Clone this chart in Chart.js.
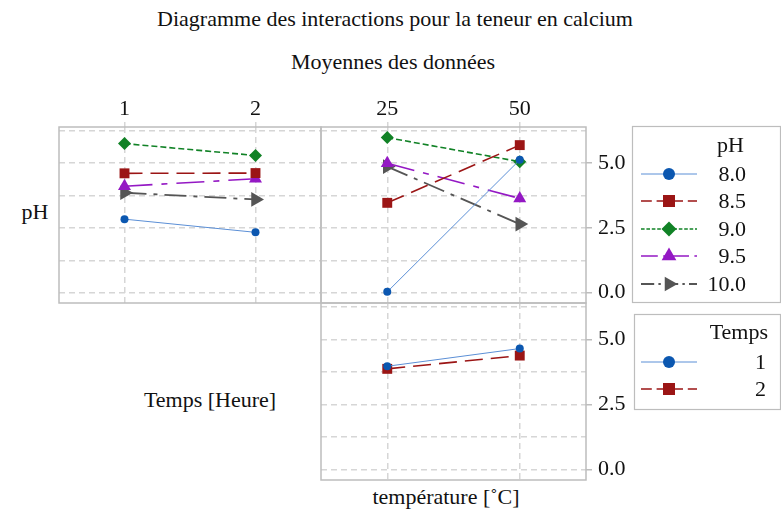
<!DOCTYPE html>
<html lang="fr">
<head>
  <meta charset="UTF-8">
  <title>Diagramme des interactions</title>
  <script src="https://cdn.jsdelivr.net/npm/chart.js"></script>
  <style>
    * { margin: 0; padding: 0; box-sizing: border-box; }
    body { width: 781px; height: 514px; background: #fff; position: relative; overflow: hidden;
           font-family: 'Liberation Serif', 'Times New Roman', Times, serif; color: #111; }
    canvas { position: absolute; }
    .txt { position: absolute; transform: translate(-50%, -50%); white-space: nowrap; font-size: 22px; line-height: 1; }
  </style>
</head>
<body>
  <div class="txt" style="left:395px; top:19px;">Diagramme des interactions pour la teneur en calcium</div>
  <div class="txt" style="left:393px; top:62px;">Moyennes des données</div>
  <div class="txt" style="left:35px; top:212px;">pH</div>
  <div class="txt" style="left:210px; top:400px;">Temps [Heure]</div>
  <div class="txt" style="left:446px; top:497px;">température [˚C]</div>

  <canvas id="panelTemps" width="266" height="215" style="left:57px; top:90px;"></canvas>
  <canvas id="panelTempPh" width="312" height="215" style="left:319px; top:90px;"></canvas>
  <canvas id="panelTempTemps" width="312" height="181" style="left:319px; top:301px;"></canvas>
  <canvas id="legends" width="151" height="300" style="left:630px; top:120px;"></canvas>

  <script>
    // data
    const temps = [1, 2];
    const temperatures = [25, 50];
    const phLevels = ['8.0', '8.5', '9.0', '9.5', '10.0'];
    const phByTemps = [
      [2.84, 2.33],
      [4.61, 4.62],
      [5.76, 5.30],
      [4.11, 4.40],
      [3.86, 3.60]
    ];
    const phByTemperature = [
      [0.03, 5.13],
      [3.47, 5.70],
      [5.99, 5.06],
      [5.00, 3.64],
      [4.87, 2.65]
    ];
    const tempsLevels = ['1', '2'];
    const tempsByTemperature = [
      [3.97, 4.65],
      [3.87, 4.38]
    ];
    const yTicks = [0, 1.25, 2.5, 3.75, 5, 6.25];

    // series styles
    const markerColors = ['#0b57b0', '#9b1515', '#118226', '#9418c4', '#555555'];
    const lineColors = ['#5b8fd6', '#9b1515', '#118226', '#9418c4', '#555555'];
    const lineWidths = [1, 1.6, 1.6, 1.6, 1.8];
    const dashes = [[], [18, 8], [6, 3], [28, 9, 6, 9], [22, 7, 4, 7]];
    const pointStyles = ['circle', 'rect', 'rectRot', 'triangle', 'triangle'];
    const pointSizes = [4, 7, 6.5, 7.5, 8.5];
    const legendSizes = [6, 8.5, 7.5, 8.5, 8.5];
    const pointRotations = [0, 0, 0, 0, 90];

    const FONT = "'Liberation Serif', 'Times New Roman', serif";
    const gridColor = '#d6d6d6';

    const framePlugin = {
      id: 'frame',
      beforeDatasetsDraw(chart) {
        const a = chart.chartArea;
        const ctx = chart.ctx;
        ctx.save();
        ctx.strokeStyle = '#bdbdbd';
        ctx.lineWidth = 1.5;
        ctx.strokeRect(a.left, a.top, a.right - a.left, a.bottom - a.top);
        ctx.restore();
      }
    };

    function makeDatasets(xs, series) {
      return series.map((vals, i) => ({
        data: xs.map((x, j) => ({ x: x, y: vals[j] })),
        borderColor: lineColors[i],
        borderWidth: lineWidths[i],
        borderDash: dashes[i],
        pointStyle: pointStyles[i],
        pointRadius: pointSizes[i],
        pointRotation: pointRotations[i],
        pointBackgroundColor: markerColors[i],
        pointBorderColor: markerColors[i],
        pointBorderWidth: 0,
        tension: 0
      }));
    }

    function makePanel(id, xs, series, opt) {
      const span = xs[1] - xs[0];
      new Chart(document.getElementById(id), {
        type: 'line',
        data: { datasets: makeDatasets(xs, series) },
        plugins: [framePlugin],
        options: {
          responsive: false,
          animation: false,
          layout: { padding: opt.padding, autoPadding: false },
          plugins: { legend: { display: false }, tooltip: { enabled: false } },
          scales: {
            x: {
              type: 'linear',
              position: opt.xPos,
              min: xs[0] - span / 2,
              max: xs[1] + span / 2,
              afterBuildTicks: s => { s.ticks = xs.map(v => ({ value: v })); },
              afterFit: s => { s.height = opt.xHeight; s.paddingLeft = 0; s.paddingRight = 0; },
              ticks: { display: opt.xLabels, color: '#111', padding: 0, font: { family: FONT, size: 22 }, maxRotation: 0 },
              grid: { color: gridColor, lineWidth: 1.5, drawTicks: opt.xLabels, tickLength: 5 },
              border: { display: false, dash: [6, 4] }
            },
            y: {
              type: 'linear',
              position: opt.yPos,
              min: -0.4,
              max: 6.4,
              afterBuildTicks: s => { s.ticks = yTicks.map(v => ({ value: v })); },
              afterFit: s => { s.width = opt.yWidth; s.paddingTop = 0; s.paddingBottom = 0; },
              ticks: {
                display: opt.yLabels,
                color: '#111',
                padding: 6,
                font: { family: FONT, size: 22 },
                callback: v => (v % 2.5 === 0 ? v.toFixed(1) : '')
              },
              grid: {
                color: gridColor,
                lineWidth: 1.5,
                drawTicks: opt.yLabels,
                tickLength: 6,
                tickColor: c => (c.tick && c.tick.value % 2.5 === 0 ? '#bdbdbd' : 'rgba(0,0,0,0)')
              },
              border: { display: false, dash: [6, 4] }
            }
          }
        }
      });
    }

    makePanel('panelTemps', temps, phByTemps, {
      padding: { left: 2, right: 2, top: 0, bottom: 2 },
      xPos: 'top', xHeight: 37, xLabels: true,
      yPos: 'left', yWidth: 0, yLabels: false
    });
    makePanel('panelTempPh', temperatures, phByTemperature, {
      padding: { left: 2, right: 0, top: 0, bottom: 2 },
      xPos: 'top', xHeight: 37, xLabels: true,
      yPos: 'right', yWidth: 45, yLabels: true
    });
    makePanel('panelTempTemps', temperatures, tempsByTemperature, {
      padding: { left: 2, right: 0, top: 2, bottom: 2 },
      xPos: 'bottom', xHeight: 0, xLabels: false,
      yPos: 'right', yWidth: 45, yLabels: true
    });

    // legends
    const lg = document.getElementById('legends').getContext('2d');
    const ox = 630, oy = 120;

    function drawMarker(ctx, i, x, y) {
      Chart.helpers.drawPoint(ctx, {
        pointStyle: pointStyles[i],
        radius: legendSizes[i],
        rotation: pointRotations[i],
        borderWidth: 0
      }, x, y);
    }

    function drawLegend(title, labels, top, boxLeft, boxBottom, labelRight, rowY) {
      lg.save();
      lg.strokeStyle = '#bdbdbd';
      lg.lineWidth = 1.2;
      lg.strokeRect(boxLeft - ox + 0.5, top - oy + 0.5, 780 - boxLeft, boxBottom - top);
      lg.fillStyle = '#111';
      lg.font = '22px ' + FONT;
      lg.textAlign = 'right';
      lg.textBaseline = 'middle';
      lg.fillText(title, labelRight.title - ox, rowY.title - oy);
      labels.forEach((lab, i) => {
        const y = rowY.rows[i] - oy;
        lg.save();
        lg.strokeStyle = lineColors[i];
        lg.lineWidth = lineWidths[i];
        lg.setLineDash(dashes[i].map(d => d * 0.6));
        lg.beginPath();
        lg.moveTo(641 - ox, y);
        lg.lineTo(697 - ox, y);
        lg.stroke();
        lg.restore();
        lg.fillStyle = markerColors[i];
        drawMarker(lg, i, 669 - ox, y);
        lg.fillStyle = '#111';
        lg.fillText(lab, labelRight.rows - ox, y + 1);
      });
      lg.restore();
    }

    drawLegend('pH', phLevels, 126, 632, 302,
      { title: 744, rows: 746 }, { title: 146, rows: [174, 201, 229, 256, 284] });
    drawLegend('Temps', tempsLevels, 314, 634, 409,
      { title: 768, rows: 766 }, { title: 333, rows: [362, 389] });
  </script>
</body>
</html>
